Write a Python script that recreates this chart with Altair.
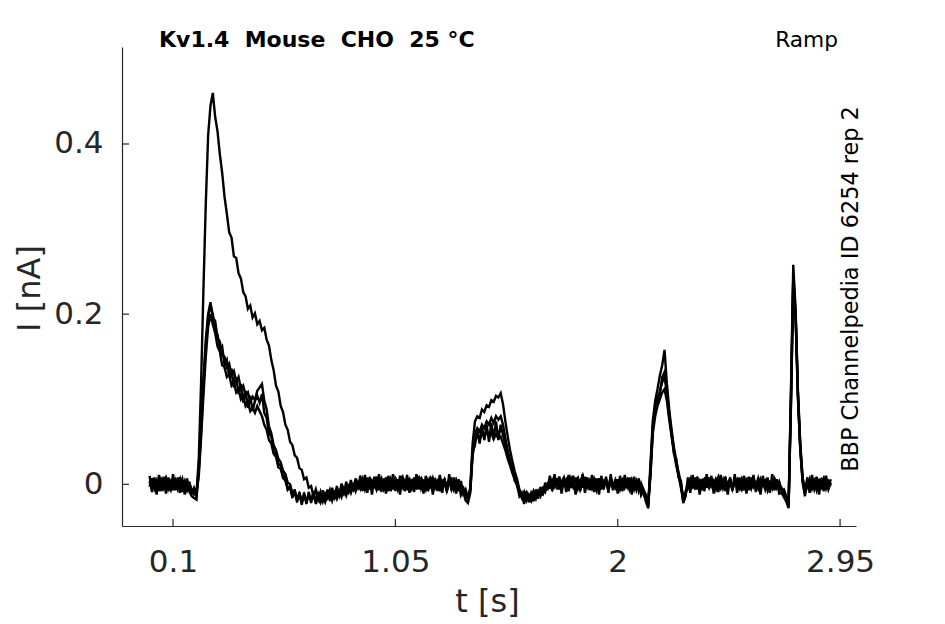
import altair as alt
import pandas as pd

# ---------------- data ----------------
T_STEP = 0.01  # sampling step of the traces [s], first sample at t = 0

TRACE_A = [
    0.004, -0.006, 0.008, -0.003, 0.006, -0.008, 0.002, 0.007, -0.005, 0.003,
    -0.007, 0.005, -0.002, 0.006, -0.009, 0.001, -0.006, 0.003, -0.010, -0.004,
    -0.012, 0.030, 0.120, 0.230, 0.330, 0.410, 0.445, 0.460, 0.432, 0.415,
    0.388, 0.366, 0.338, 0.318, 0.296, 0.290, 0.268, 0.266, 0.248, 0.242,
    0.226, 0.221, 0.206, 0.210, 0.196, 0.201, 0.188, 0.192, 0.181, 0.184,
    0.170, 0.163, 0.146, 0.134, 0.116, 0.109, 0.092, 0.085, 0.070, 0.064,
    0.050, 0.046, 0.034, 0.031, 0.019, 0.017, 0.006, 0.008, -0.004, -0.002,
    -0.014, -0.006, -0.018, -0.009, -0.020, -0.011, -0.016, -0.007, -0.019, -0.010,
    -0.017, -0.008, -0.015, -0.005, -0.013, -0.003, -0.010, -0.001, -0.008, 0.002,
    -0.005, 0.006, -0.003, 0.008, -0.006, 0.004, -0.002, 0.009, -0.007, 0.003,
    0.005, -0.004, 0.007, -0.008, 0.002, 0.006, -0.005, 0.010, -0.003, 0.004,
    -0.007, 0.005, -0.002, 0.008, -0.006, 0.003, 0.007, -0.004, 0.005, -0.008,
    0.006, -0.002, 0.004, -0.006, 0.009, -0.003, 0.005, -0.007, 0.002, 0.006,
    -0.005, 0.003, -0.008, 0.004, -0.011, -0.006,
    -0.016, -0.004, 0.048, 0.074, 0.080, 0.078, 0.088, 0.085, 0.093, 0.091,
    0.099, 0.097, 0.104, 0.102, 0.107, 0.094, 0.074, 0.056, 0.040, 0.027,
    0.015, 0.006, -0.006,
    -0.012, -0.018, -0.010, -0.016, -0.020, -0.011, -0.017, -0.008, -0.014, -0.005,
    -0.009, 0.001,
    0.004, -0.006, 0.007, -0.003, 0.009, -0.005, 0.002, 0.006, -0.008, 0.004,
    -0.002, 0.008, -0.005, 0.003, 0.010, -0.004, 0.006, -0.007, 0.002, 0.005,
    -0.003, 0.007, -0.006, 0.004, 0.001, -0.005, 0.008, -0.002, 0.005, -0.007,
    0.003, 0.006, -0.004, 0.002, -0.006, 0.005, -0.003, 0.004, -0.008, 0.001,
    -0.006,
    -0.012, -0.026, 0.025, 0.075, 0.098, 0.112, 0.128, 0.140, 0.158, 0.118,
    0.088, 0.064, 0.044, 0.028, 0.014, 0.002, -0.016, -0.010,
    -0.003, 0.006, -0.005, 0.008, -0.002, 0.004, -0.007, 0.005, 0.002, -0.004,
    0.007, -0.006, 0.003, 0.009, -0.003, 0.005, -0.008, 0.002, 0.006, -0.004,
    0.004, -0.002, 0.008, -0.005, 0.003, 0.006, -0.007, 0.002, 0.005, -0.003,
    0.007, -0.004, 0.003, -0.006, 0.005, 0.001, -0.005, 0.006, -0.003, 0.002,
    -0.008, -0.006,
    -0.014, -0.026, 0.110, 0.258, 0.205, 0.110, 0.048, 0.008, -0.006,
    0.004, -0.007, 0.006, -0.003, 0.008, -0.005, 0.002, 0.007, -0.006, 0.003, -0.002,
]

TRACE_B = [
    -0.003, 0.007, -0.005, 0.004, -0.008, 0.006, 0.001, -0.006, 0.008, -0.004,
    0.005, -0.007, 0.003, -0.002, 0.006, -0.008, 0.002, -0.005, -0.011, -0.008,
    -0.014, 0.020, 0.070, 0.125, 0.170, 0.200, 0.214, 0.196, 0.192, 0.172,
    0.168, 0.152, 0.150, 0.138, 0.142, 0.128, 0.133, 0.120, 0.126, 0.112,
    0.116, 0.104, 0.108, 0.097, 0.103, 0.099, 0.110, 0.114, 0.118, 0.098,
    0.088, 0.068, 0.060, 0.046, 0.040, 0.030, 0.026, 0.016, 0.012, 0.002,
    0.000, -0.010, -0.008, -0.017, -0.011, -0.019, -0.012, -0.020, -0.013, -0.018,
    -0.011, -0.019, -0.013, -0.021, -0.012, -0.018, -0.010, -0.017, -0.008, -0.015,
    -0.006, -0.014, -0.004, -0.011, -0.002, -0.009, 0.001, -0.006, 0.003, -0.004,
    0.006, -0.004, 0.003, -0.007, 0.008, -0.002, 0.005, -0.006, 0.002, 0.007,
    -0.005, 0.004, -0.008, 0.006, -0.001, 0.003, -0.006, 0.005, 0.009, -0.004,
    0.002, -0.007, 0.006, -0.003, 0.004, 0.008, -0.005, 0.002, -0.006, 0.005,
    -0.002, 0.007, -0.004, 0.003, -0.008, 0.004, 0.006, -0.003, 0.005, -0.006,
    0.002, -0.004, 0.006, -0.007, -0.004, -0.013,
    -0.018, -0.008, 0.034, 0.050, 0.058, 0.052, 0.061, 0.055, 0.063, 0.056,
    0.060, 0.053, 0.059, 0.054, 0.056, 0.048, 0.040, 0.030, 0.022, 0.013,
    0.007, -0.002, -0.010,
    -0.016, -0.009, -0.019, -0.012, -0.017, -0.008, -0.015, -0.010, -0.006, -0.011,
    -0.002, -0.004,
    -0.004, 0.005, -0.002, 0.007, -0.006, 0.003, 0.008, -0.005, 0.004, -0.002,
    0.006, -0.007, 0.002, 0.005, -0.004, 0.009, -0.003, 0.004, -0.006, 0.007,
    0.002, -0.005, 0.005, -0.003, 0.006, -0.007, 0.003, 0.001, -0.004, 0.006,
    -0.006, 0.002, 0.005, -0.003, 0.007, -0.005, 0.002, -0.007, 0.003, -0.004,
    -0.009,
    -0.015, -0.022, 0.015, 0.060, 0.080, 0.092, 0.100, 0.108, 0.112, 0.098,
    0.076, 0.056, 0.038, 0.022, 0.010, -0.004, -0.020, -0.012,
    0.004, -0.006, 0.007, -0.003, 0.005, -0.008, 0.002, 0.006, -0.004, 0.008,
    -0.002, 0.004, -0.006, 0.003, 0.007, -0.005, 0.002, -0.003, 0.006, -0.007,
    0.005, 0.001, -0.004, 0.006, -0.002, 0.004, -0.006, 0.008, -0.003, 0.002,
    -0.005, 0.006, -0.001, 0.004, -0.007, 0.003, 0.005, -0.004, 0.002, -0.006,
    -0.004, -0.010,
    -0.018, -0.022, 0.090, 0.232, 0.196, 0.100, 0.040, 0.004, -0.010,
    -0.003, 0.006, -0.005, 0.004, -0.007, 0.003, 0.006, -0.004, 0.005, -0.006, 0.002,
]

TRACE_C = [
    0.002, -0.005, 0.006, -0.008, 0.003, 0.005, -0.004, 0.007, -0.002, -0.007,
    0.004, 0.001, -0.006, 0.008, -0.003, 0.004, -0.007, 0.000, -0.006, -0.012,
    -0.010, 0.010, 0.055, 0.105, 0.150, 0.185, 0.200, 0.188, 0.178, 0.162,
    0.156, 0.140, 0.138, 0.126, 0.129, 0.116, 0.120, 0.108, 0.112, 0.100,
    0.104, 0.092, 0.096, 0.086, 0.090, 0.084, 0.092, 0.086, 0.080, 0.070,
    0.064, 0.052, 0.048, 0.036, 0.032, 0.020, 0.018, 0.008, 0.004, -0.006,
    -0.004, -0.014, -0.010, -0.019, -0.013, -0.021, -0.014, -0.020, -0.012, -0.019,
    -0.013, -0.020, -0.011, -0.018, -0.014, -0.021, -0.012, -0.017, -0.010, -0.016,
    -0.008, -0.013, -0.005, -0.010, -0.003, -0.008, 0.000, -0.005, 0.002, -0.003,
    -0.004, 0.005, -0.006, 0.003, 0.007, -0.003, 0.004, -0.007, 0.006, 0.001,
    -0.005, 0.008, -0.002, 0.004, -0.006, 0.007, 0.002, -0.004, 0.005, -0.008,
    0.003, 0.006, -0.005, 0.002, -0.003, 0.007, -0.006, 0.004, 0.001, -0.005,
    0.008, -0.003, 0.005, -0.002, 0.006, -0.005, 0.003, -0.007, 0.004, 0.002,
    -0.006, 0.005, -0.003, -0.008, -0.010, -0.015,
    -0.017, -0.006, 0.040, 0.060, 0.066, 0.062, 0.070, 0.066, 0.074, 0.070,
    0.078, 0.072, 0.080, 0.076, 0.080, 0.070, 0.054, 0.040, 0.028, 0.018,
    0.009, 0.000, -0.008,
    -0.014, -0.020, -0.013, -0.018, -0.011, -0.016, -0.009, -0.013, -0.006, -0.008,
    -0.001, -0.003,
    0.003, -0.005, 0.006, -0.002, 0.004, -0.007, 0.005, 0.002, -0.004, 0.007,
    -0.003, 0.005, 0.008, -0.006, 0.002, -0.004, 0.006, 0.003, -0.005, 0.004,
    -0.007, 0.002, 0.006, -0.002, 0.005, -0.004, 0.007, -0.006, 0.003, 0.001,
    0.005, -0.005, 0.002, 0.006, -0.003, 0.004, -0.006, 0.003, -0.002, -0.005,
    -0.011,
    -0.018, -0.024, 0.010, 0.065, 0.088, 0.098, 0.110, 0.120, 0.126, 0.108,
    0.082, 0.060, 0.040, 0.025, 0.012, -0.002, -0.018, -0.008,
    -0.005, 0.004, -0.002, 0.007, -0.006, 0.003, 0.005, -0.004, 0.008, -0.002,
    0.004, -0.007, 0.006, 0.001, -0.005, 0.003, 0.007, -0.003, 0.004, -0.006,
    0.002, 0.006, -0.004, 0.005, -0.007, 0.003, 0.002, -0.005, 0.006, -0.002,
    0.004, -0.006, 0.007, -0.003, 0.002, -0.005, 0.004, 0.006, -0.004, 0.003,
    -0.007, -0.008,
    -0.016, -0.024, 0.100, 0.245, 0.200, 0.105, 0.044, 0.006, -0.008,
    0.005, -0.004, 0.007, -0.006, 0.002, 0.005, -0.003, 0.006, -0.005, 0.004, 0.000,
]

TRACE_D = [
    0.010, -0.009, 0.006, -0.012, 0.011, -0.004, 0.009, -0.011, 0.005, -0.008,
    0.012, -0.006, 0.008, -0.010, 0.004, -0.012, 0.007, -0.009, -0.014, -0.016,
    -0.018, 0.015, 0.062, 0.115, 0.162, 0.196, 0.210, 0.200, 0.182, 0.176,
    0.158, 0.162, 0.140, 0.146, 0.126, 0.136, 0.114, 0.126, 0.106, 0.118,
    0.096, 0.110, 0.090, 0.104, 0.086, 0.098, 0.104, 0.096, 0.106, 0.084,
    0.078, 0.060, 0.056, 0.038, 0.038, 0.022, 0.024, 0.008, 0.010, -0.006,
    -0.002, -0.016, -0.006, -0.021, -0.009, -0.024, -0.010, -0.023, -0.009, -0.022,
    -0.008, -0.023, -0.010, -0.022, -0.007, -0.020, -0.006, -0.019, -0.004, -0.017,
    -0.002, -0.015, 0.001, -0.012, 0.003, -0.010, 0.005, -0.008, 0.007, -0.006,
    0.010, -0.008, 0.011, -0.010, 0.006, -0.012, 0.009, -0.005, 0.012, -0.009,
    0.007, -0.011, 0.010, -0.004, 0.012, -0.008, 0.006, -0.012, 0.009, -0.007,
    0.011, -0.010, 0.005, -0.009, 0.012, -0.006, 0.008, -0.011, 0.010, -0.005,
    0.009, -0.012, 0.007, -0.008, 0.011, -0.010, 0.006, -0.009, 0.012, -0.007,
    0.008, -0.011, 0.005, -0.013, -0.008, -0.019,
    -0.022, -0.010, 0.038, 0.046, 0.064, 0.048, 0.068, 0.052, 0.070, 0.050,
    0.072, 0.054, 0.074, 0.052, 0.070, 0.058, 0.046, 0.036, 0.024, 0.016,
    0.004, 0.000, -0.014,
    -0.010, -0.023, -0.008, -0.021, -0.011, -0.020, -0.006, -0.017, -0.003, -0.013,
    0.002, -0.007,
    0.010, -0.008, 0.012, -0.006, 0.009, -0.011, 0.007, -0.009, 0.011, -0.004,
    0.010, -0.012, 0.006, -0.008, 0.012, -0.010, 0.008, -0.005, 0.011, -0.009,
    0.007, -0.012, 0.010, -0.006, 0.009, -0.010, 0.012, -0.007, 0.006, -0.011,
    0.010, -0.008, 0.011, -0.004, 0.008, -0.012, 0.009, -0.006, 0.007, -0.013,
    -0.008,
    -0.020, -0.028, 0.018, 0.070, 0.084, 0.104, 0.106, 0.126, 0.132, 0.112,
    0.080, 0.062, 0.036, 0.030, 0.008, 0.004, -0.022, -0.014,
    0.008, -0.010, 0.011, -0.006, 0.009, -0.012, 0.006, -0.008, 0.012, -0.005,
    0.010, -0.011, 0.007, -0.009, 0.011, -0.004, 0.009, -0.012, 0.008, -0.007,
    0.012, -0.010, 0.006, -0.008, 0.010, -0.011, 0.009, -0.005, 0.011, -0.009,
    0.007, -0.012, 0.010, -0.006, 0.008, -0.010, 0.012, -0.007, 0.006, -0.011,
    -0.010, -0.015,
    -0.020, -0.028, 0.095, 0.240, 0.198, 0.104, 0.042, 0.002, -0.014,
    0.008, -0.010, 0.011, -0.006, 0.009, -0.012, 0.007, -0.008, 0.010, -0.005, 0.006,
]

X_TICKS = [0.1, 1.05, 2, 2.95]
Y_TICKS = [0, 0.2, 0.4]
X_DOMAIN = [-0.118, 3.018]
Y_DOMAIN = [-0.049, 0.514]

NB = "\u00a0"  # keeps the double spacing of the header visible
TITLE_TEXT = f"Kv1.4 {NB}Mouse {NB}CHO {NB}25 °C"
PROTOCOL_TEXT = "Ramp"
SOURCE_TEXT = "BBP Channelpedia ID 6254 rep 2"
X_TITLE = "t [s]"
Y_TITLE = "I [nA]"

# ---------------- table ----------------
rows = []
for name, vals in (("A", TRACE_A), ("B", TRACE_B), ("C", TRACE_C), ("D", TRACE_D)):
    for i, v in enumerate(vals):
        rows.append({"trace": name, "t": round(i * T_STEP, 2), "I": v})
df = pd.DataFrame(rows)

# ---------------- layout ----------------
W, H = 734, 479
FONT = "DejaVu Sans"
INK = "#262626"
TICK_LEN = 7

xs = alt.Scale(domain=X_DOMAIN, nice=False, zero=False)
ys = alt.Scale(domain=Y_DOMAIN, nice=False, zero=False)

x_axis = alt.Axis(
    values=X_TICKS, format=".2~f", title=X_TITLE, grid=False, ticks=False, tickSize=0,
    labelPadding=21, labelFontSize=31, labelFont=FONT, labelColor=INK,
    labelFlush=False, labelOverlap=False,
    titleFontSize=32, titleFont=FONT, titleFontWeight="normal", titleColor=INK,
    titleX=365, titleY=85, titleBaseline="alphabetic", titleAlign="center",
    domainColor=INK, domainWidth=1.2,
)
y_axis = alt.Axis(
    values=Y_TICKS, format=".2~f", title=Y_TITLE, grid=False, ticks=False, tickSize=0,
    labelPadding=19, labelFontSize=31, labelFont=FONT, labelColor=INK,
    labelFlush=False, labelOverlap=False,
    titleFontSize=32, titleFont=FONT, titleFontWeight="normal", titleColor=INK,
    titleX=-83, titleY=241, titleBaseline="alphabetic", titleAlign="center", titleAngle=270,
    domainColor=INK, domainWidth=1.2,
)

lines = alt.Chart(df).mark_line(color="black", strokeWidth=2.4, clip=True).encode(
    x=alt.X("t:Q", scale=xs, axis=x_axis),
    y=alt.Y("I:Q", scale=ys, axis=y_axis),
    detail="trace:N",
    order="t:Q",
)

xticks = alt.Chart(pd.DataFrame({"t": X_TICKS})).mark_rule(color=INK, strokeWidth=1.2).encode(
    x=alt.X("t:Q", scale=xs, axis=x_axis),
    y=alt.value(H),
    y2=alt.value(H - TICK_LEN),
)
yticks = alt.Chart(pd.DataFrame({"I": Y_TICKS})).mark_rule(color=INK, strokeWidth=1.2).encode(
    y=alt.Y("I:Q", scale=ys, axis=y_axis),
    x=alt.value(0),
    x2=alt.value(TICK_LEN),
)

title_txt = alt.Chart(pd.DataFrame({"s": [TITLE_TEXT]})).mark_text(
    font=FONT, fontSize=22, fontWeight="bold", color="black",
    align="left", baseline="alphabetic",
).encode(text="s:N", x=alt.value(37), y=alt.value(0))

protocol_txt = alt.Chart(pd.DataFrame({"s": [PROTOCOL_TEXT]})).mark_text(
    font=FONT, fontSize=21.7, color="black", align="right", baseline="alphabetic",
).encode(text="s:N", x=alt.value(716), y=alt.value(0))

source_txt = alt.Chart(pd.DataFrame({"s": [SOURCE_TEXT]})).mark_text(
    font=FONT, fontSize=22.4, color="black", align="center", baseline="alphabetic", angle=270,
).encode(text="s:N", x=alt.value(736), y=alt.value(242))

chart = alt.layer(lines, xticks, yticks, title_txt, protocol_txt, source_txt).properties(
    width=W, height=H,
    autosize=alt.AutoSizeParams(type="none"),
    padding={"left": 114, "top": 39, "right": 70, "bottom": 93},
    background="white",
).configure_view(stroke=None)

chart.save("out.html", embed_options={"renderer": "svg", "actions": False})
